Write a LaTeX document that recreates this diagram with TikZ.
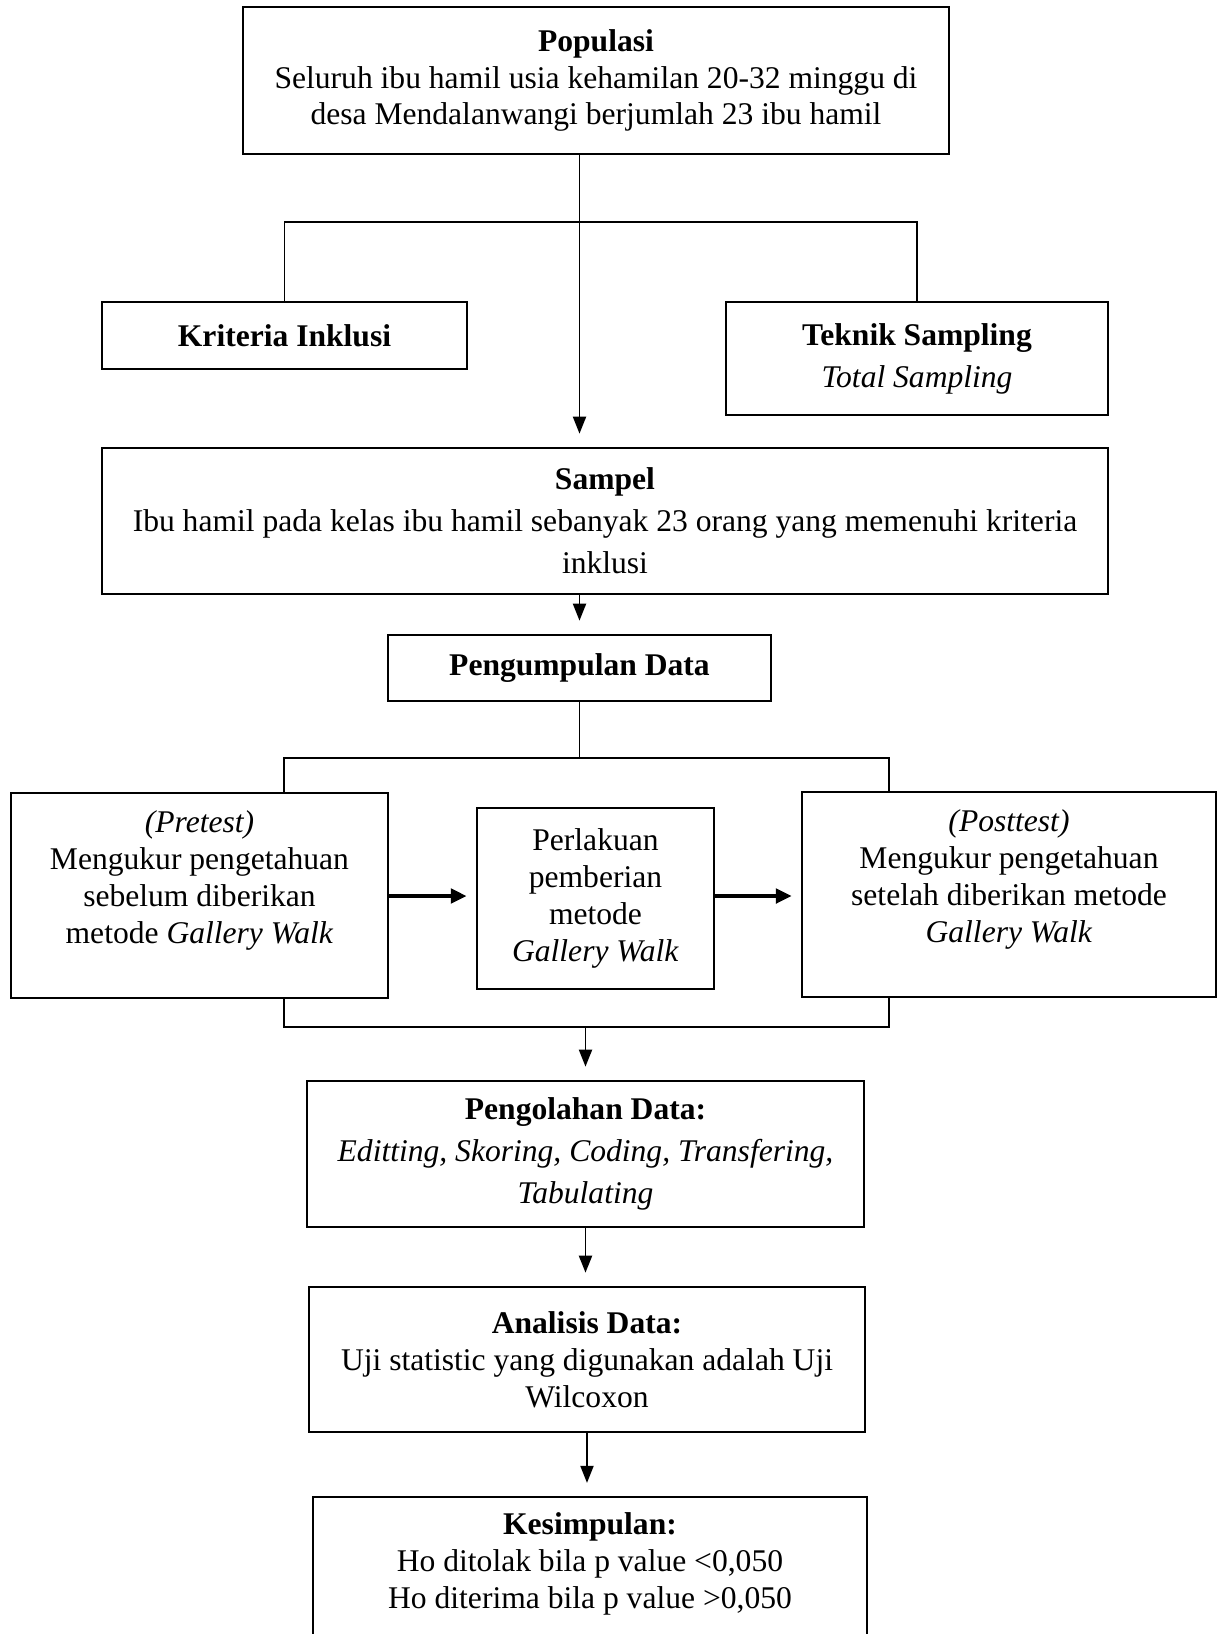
\documentclass[tikz,border=0pt]{standalone}
\usepackage{fontspec}
\setmainfont{Liberation Serif}
\usetikzlibrary{arrows.meta}

\tikzset{
  kotak/.style={draw, line width=0.9pt, align=center, inner xsep=4pt,
    font=\fontsize{12}{14}\selectfont},
  renggang/.style={font=\fontsize{12}{16}\selectfont},
  garis/.style={line width=0.7pt},
  panah/.style={line width=0.7pt, -{Triangle[length=6.5pt,width=5pt]}, shorten >=5pt},
  panahtebal/.style={line width=1.4pt, -{Triangle[length=6pt,width=5.5pt]}, shorten >=3.5pt},
}

\begin{document}
\begin{tikzpicture}[x=0.38pt, y=-0.38pt]
\useasboundingbox (0,0) rectangle (1222,1634);
\clip (0,0) rectangle (1222,1634);

\node[kotak, minimum width=268.3pt, minimum height=55.9pt] (pop) at (596,80.5)
  {\textbf{Populasi}\\Seluruh ibu hamil usia kehamilan 20-32 minggu di\\desa Mendalanwangi berjumlah 23 ibu hamil};
\node[kotak, minimum width=138.7pt, minimum height=25.5pt] (krit) at (284.5,335.5)
  {\textbf{Kriteria Inklusi}};
\node[kotak, renggang, minimum width=145.2pt, minimum height=42.9pt] (tek) at (917,358.5)
  {\textbf{Teknik Sampling}\\\textit{Total Sampling}};
\node[kotak, renggang, minimum width=382.3pt, minimum height=55.5pt] (sampel) at (605,521)
  {\textbf{Sampel}\\Ibu hamil pada kelas ibu hamil sebanyak 23 orang yang memenuhi kriteria\\inklusi};
\node[kotak, minimum width=145.5pt, minimum height=25.1pt] (kumpul) at (579.5,668)
  {\textbf{Pengumpulan Data}};

\node[kotak, minimum width=143.3pt, minimum height=77.9pt] (pre) at (199.5,895.5)
  {\textit{(Pretest)}\\Mengukur pengetahuan\\sebelum diberikan\\metode \textit{Gallery Walk}\\\mbox{}};
\node[kotak, minimum width=90.1pt, minimum height=68.8pt] (perl) at (595.5,898.5)
  {Perlakuan\\pemberian\\metode\\\textit{Gallery Walk}};
\node[kotak, minimum width=157.3pt, minimum height=77.9pt] (post) at (1009,894.5)
  {\textit{(Posttest)}\\Mengukur pengetahuan\\setelah diberikan metode\\\textit{Gallery Walk}\\\mbox{}};

\node[kotak, renggang, minimum width=211.7pt, minimum height=55.5pt] (olah) at (585.5,1154)
  {\textbf{Pengolahan Data:}\\\textit{Editting, Skoring, Coding, Transfering,}\\\textit{Tabulating}};
\node[kotak, minimum width=211.3pt, minimum height=55.1pt] (anal) at (587,1359.5)
  {\textbf{Analisis Data:}\\Uji statistic yang digunakan adalah Uji\\Wilcoxon};
\node[kotak, anchor=north, inner ysep=6pt, minimum width=210.5pt] (kes) at (590,1496)
  {\textbf{Kesimpulan:}\\Ho ditolak bila p value <0,050\\Ho diterima bila p value >0,050\\\mbox{}\\\mbox{}};

\coordinate (cabangA) at (284,222);
\coordinate (pisahL) at (284,758);
\coordinate (pisahR) at (889,758);
\coordinate (gabungL) at (284,1027);
\coordinate (gabungR) at (889,1027);

% populasi ke sampel
\draw[panah] (pop.south -| kumpul.north) -- (sampel.north -| kumpul.north);
\draw[garis] (krit.north) -- (krit.north |- cabangA) -- (tek.north |- cabangA) -- (tek.north);
\draw[panah] (kumpul.north |- sampel.south) -- (kumpul.north);

% pengumpulan data
\draw[garis] (kumpul.south) -- (kumpul.south |- pisahL);
\draw[garis] (pre.north -| pisahL) -- (pisahL) -- (pisahR) -- (post.north -| pisahR);
\draw[panahtebal] (pre.east |- 0,896) -- (perl.west |- 0,896);
\draw[panahtebal] (perl.east |- 0,896) -- (post.west |- 0,896);
\draw[garis] (pre.south -| gabungL) -- (gabungL) -- (gabungR) -- (post.south -| gabungR);

% olah, analisis, kesimpulan
\draw[panah] (olah.north |- gabungL) -- (olah.north);
\draw[panah] (olah.south) -- (olah.south |- anal.north);
\draw[panah] (anal.south) -- (anal.south |- kes.north);
\end{tikzpicture}
\end{document}
